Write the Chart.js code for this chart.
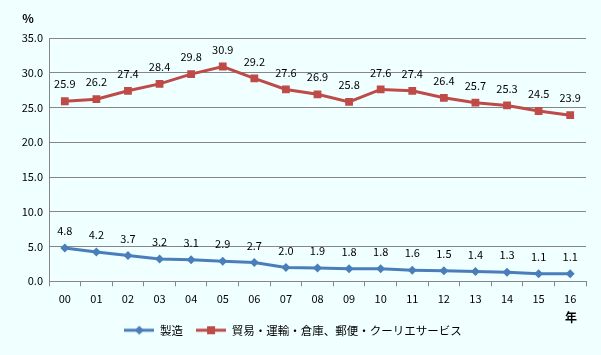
<!DOCTYPE html>
<html>
<head>
<meta charset="utf-8">
<script src="https://cdn.jsdelivr.net/npm/chart.js@4/dist/chart.umd.min.js"></script>
<style>
html,body{margin:0;padding:0;background:#F0FFFF;}
#wrap{width:601px;height:355px;position:relative;}
</style>
</head>
<body>
<div id="wrap"><canvas id="c" width="601" height="355"></canvas></div>
<script>
const categories = ["00","01","02","03","04","05","06","07","08","09","10","11","12","13","14","15","16"];
const manufacturing = [4.8,4.2,3.7,3.2,3.1,2.9,2.7,2.0,1.9,1.8,1.8,1.6,1.5,1.4,1.3,1.1,1.1];
const tradeLogistics = [25.9,26.2,27.4,28.4,29.8,30.9,29.2,27.6,26.9,25.8,27.6,27.4,26.4,25.7,25.3,24.5,23.9];
const seriesNames = ["製造","貿易・運輸・倉庫、郵便・クーリエサービス"];
const yTicks = [0,5,10,15,20,25,30,35];
const yUnit = "%";
const xUnit = "年";

const FONT = '"Noto Sans CJK JP", "Noto Sans", sans-serif';
const BLUE = '#4A7EBB';
const RED = '#BE4B48';

function legendImg(color, shape){
  const c = document.createElement('canvas');
  c.width = 30; c.height = 12;
  const x = c.getContext('2d');
  x.strokeStyle = color; x.lineWidth = 3;
  x.beginPath(); x.moveTo(0,6); x.lineTo(30,6); x.stroke();
  x.fillStyle = color;
  if (shape === 'diamond'){
    x.beginPath(); x.moveTo(15,1.5); x.lineTo(19.5,6); x.lineTo(15,10.5); x.lineTo(10.5,6); x.closePath(); x.fill();
  } else {
    x.fillRect(11,2,8,8);
  }
  return c;
}
const imgs = [legendImg(BLUE,'diamond'), legendImg(RED,'square')];

const labelPlugin = {
  id: 'labels',
  afterDatasetsDraw(chart){
    const ctx = chart.ctx;
    ctx.save();
    ctx.font = '11px ' + FONT;
    ctx.fillStyle = '#000';
    ctx.textAlign = 'center';
    ctx.textBaseline = 'middle';
    chart.data.datasets.forEach((ds, i) => {
      const meta = chart.getDatasetMeta(i);
      meta.data.forEach((pt, j) => {
        ctx.fillText(ds.data[j].toFixed(1), pt.x, pt.y - 17);
      });
    });
    ctx.font = 'bold 12px ' + FONT;
    const ca = chart.chartArea;
    ctx.fillText(yUnit, 28, ca.top - 20);
    ctx.fillText(xUnit, ca.right - 15, ca.bottom + 36);
    ctx.restore();
  }
};

new Chart(document.getElementById('c'), {
  type: 'line',
  data: {
    labels: categories,
    datasets: [
      {label: seriesNames[0], data: manufacturing, borderColor: BLUE, backgroundColor: BLUE,
       borderWidth: 3, pointStyle: 'rectRot', pointRadius: 4.5, pointBorderWidth: 0, tension: 0},
      {label: seriesNames[1], data: tradeLogistics, borderColor: RED, backgroundColor: RED,
       borderWidth: 3, pointStyle: 'rect', pointRadius: 5.5, pointBorderWidth: 0, tension: 0}
    ]
  },
  options: {
    responsive: false,
    animation: false,
    layout: {padding: {top: 38, right: 15, left: 0, bottom: 9}},
    plugins: {
      tooltip: {enabled: false},
      legend: {
        position: 'bottom',
        labels: {
          usePointStyle: true,
          pointStyleWidth: 30,
          color: '#000',
          font: {family: FONT, size: 11.5},
          padding: 13,
          generateLabels(chart){
            return chart.data.datasets.map((ds, i) => ({
              text: ds.label, pointStyle: imgs[i], fillStyle: ds.borderColor,
              strokeStyle: ds.borderColor, lineWidth: 0, datasetIndex: i, hidden: false, fontColor: '#000'
            }));
          }
        }
      }
    },
    scales: {
      x: {
        offset: true,
        grid: {drawOnChartArea: false, offset: true, tickLength: 5, color: '#868686'},
        border: {color: '#868686'},
        ticks: {color: '#000', font: {family: FONT, size: 11}, padding: 6, maxRotation: 0}
      },
      y: {
        min: 0, max: 35,
        afterBuildTicks(scale){ scale.ticks = yTicks.map(v => ({value: v})); },
        afterFit(scale){ scale.width = 49; },
        grid: {color: '#868686', tickLength: 0},
        border: {color: '#868686'},
        ticks: {color: '#000', font: {family: FONT, size: 11}, padding: 6,
                callback: v => Number(v).toFixed(1)}
      }
    }
  },
  plugins: [labelPlugin]
});
</script>
</body>
</html>
